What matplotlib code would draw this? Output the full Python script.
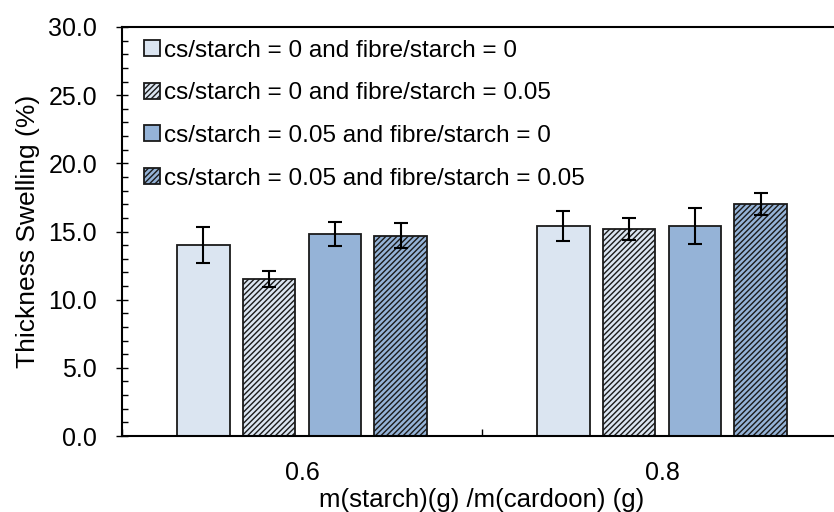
import numpy as np
import matplotlib
matplotlib.use('Agg')
import matplotlib.pyplot as plt
from matplotlib.ticker import MultipleLocator

plt.rcParams['font.family'] = ['Liberation Sans', 'DejaVu Sans']
plt.rcParams['hatch.linewidth'] = 1.0

# Data
groups = ['0.6', '0.8']
series = ['cs/starch = 0 and fibre/starch = 0',
          'cs/starch = 0 and fibre/starch = 0.05',
          'cs/starch = 0.05 and fibre/starch = 0',
          'cs/starch = 0.05 and fibre/starch = 0.05']
s1 = [14.0, 15.4]
s2 = [11.5, 15.2]
s3 = [14.8, 15.4]
s4 = [14.7, 17.0]
e1 = [1.3, 1.1]
e2 = [0.6, 0.8]
e3 = [0.9, 1.3]
e4 = [0.9, 0.8]

values = [s1, s2, s3, s4]
errors = [e1, e2, e3, e4]
colors = ['#dbe5f1', '#dbe5f1', '#95b3d7', '#95b3d7']
hatches = [None, '//////', None, '//////']

fig = plt.figure(figsize=(8.34, 5.12), dpi=100)
ax = fig.add_axes([122 / 834, 1 - 436 / 512, 720 / 834, (436 - 27) / 512])

x = np.arange(len(groups)) + 0.5
spacing = 0.1825
width = 0.145
for i in range(4):
    ax.bar(x + (i - 1.5) * spacing, values[i], width, yerr=errors[i],
           color=colors[i], edgecolor='#1a1a1a', linewidth=1.3, hatch=hatches[i],
           label=series[i], zorder=2,
           error_kw=dict(ecolor='black', elinewidth=1.5, capsize=5, capthick=1.5))

ax.set_xlim(0, 2)
ax.set_ylim(0, 30)
ax.set_xticks(x)
ax.set_xticklabels(groups)
ax.set_xticks([0, 1, 2], minor=True)
ax.tick_params(axis='x', which='major', length=0, pad=18, labelsize=18)
ax.tick_params(axis='x', which='minor', direction='in', length=5, width=1)
ax.yaxis.set_major_locator(MultipleLocator(5))
ax.yaxis.set_minor_locator(MultipleLocator(1))
ax.yaxis.set_major_formatter(matplotlib.ticker.FormatStrFormatter('%.1f'))
ax.tick_params(axis='y', which='major', direction='inout', length=8, width=1, labelsize=18, pad=14)
ax.tick_params(axis='y', which='minor', direction='in', length=4, width=1)

for sp in ax.spines.values():
    sp.set_linewidth(1.5)

ax.set_ylabel('Thickness Swelling (%)', fontsize=19, labelpad=6)
ax.set_xlabel('m(starch)(g) /m(cardoon) (g)', fontsize=18.5, labelpad=2)

ax.legend(loc='upper left', bbox_to_anchor=(0.01, 1.005), frameon=False, fontsize=17.5,
          handlelength=0.65, handleheight=0.65, handletextpad=0.2, labelspacing=0.85,
          borderaxespad=0.2)

fig.savefig('out.png', dpi=100)
